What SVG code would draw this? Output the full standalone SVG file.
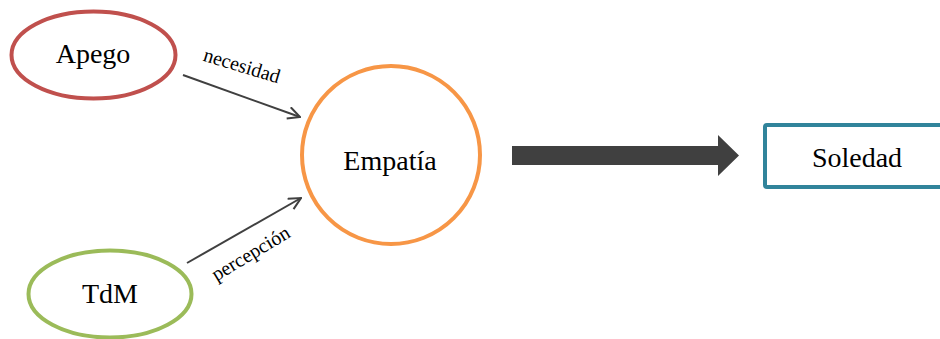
<svg xmlns="http://www.w3.org/2000/svg" width="940" height="339" viewBox="0 0 940 339">
<style>
.lbl{font-family:"Liberation Serif","Times New Roman",serif;font-size:28px;fill:#000;text-anchor:middle}
.elbl{font-family:"Liberation Serif","Times New Roman",serif;font-size:20px;fill:#000;text-anchor:middle}
.edge{stroke:#404040;stroke-width:2;fill:none}
</style>
<defs>
<marker id="open" viewBox="0 0 14 14" refX="13" refY="7" markerWidth="14" markerHeight="14" markerUnits="userSpaceOnUse" orient="auto">
<path d="M1,1 L13,7 L1,13" fill="none" stroke="#404040" stroke-width="2"/>
</marker>
</defs>
<rect width="940" height="339" fill="#fff"/>
<g id="connectors">
<line class="edge" x1="183" y1="75" x2="300" y2="117" marker-end="url(#open)"/>
<line class="edge" x1="187" y1="263" x2="301" y2="198" marker-end="url(#open)"/>
<polygon points="512,146 718,146 718,135 739,155.5 718,176 718,165 512,165" fill="#404040"/>
<text class="elbl" transform="translate(240,72) rotate(17)">necesidad</text>
<text class="elbl" transform="translate(254,259) rotate(-31)">percepción</text>
</g>
<g id="apego">
<ellipse cx="93.5" cy="55" rx="82" ry="43.5" fill="#fff" stroke="#C0504D" stroke-width="4"/>
<text class="lbl" x="93" y="63">Apego</text>
</g>
<g id="tdm">
<ellipse cx="110" cy="294" rx="81.5" ry="43.5" fill="#fff" stroke="#9BBB59" stroke-width="4"/>
<text class="lbl" x="110" y="303">TdM</text>
</g>
<g id="empatia">
<circle cx="391" cy="155" r="89" fill="#fff" stroke="#F79646" stroke-width="4"/>
<text class="lbl" x="390" y="170">Empatía</text>
</g>
<g id="soledad">
<rect x="765" y="125" width="200" height="62" rx="2" fill="#fff" stroke="#31849B" stroke-width="4"/>
<text class="lbl" x="857" y="167">Soledad</text>
</g>
</svg>
